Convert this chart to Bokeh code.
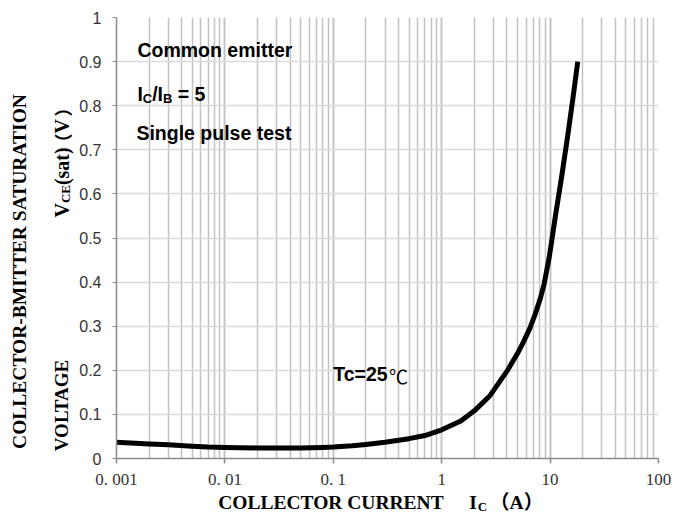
import math
from bokeh.plotting import figure
from bokeh.layouts import row, column
from bokeh.models import Label, LogTicker, CustomJSTickFormatter, SingleIntervalTicker, Range1d
from bokeh.embed import file_html
from bokeh.resources import INLINE

# ---- data ----
ic_amps = [0.001, 0.002, 0.003, 0.005, 0.007, 0.01, 0.02, 0.05, 0.08, 0.1,
           0.15, 0.2, 0.3, 0.5, 0.7, 1.0, 1.5, 2.0, 2.8, 4.0,
           5.0, 5.7, 6.5, 7.3, 8.1, 8.8, 9.8, 11.2, 12.8, 14.5, 16.2, 18.0]
vce_sat = [0.037, 0.033, 0.031, 0.028, 0.026, 0.025, 0.024, 0.024, 0.025, 0.026,
           0.029, 0.032, 0.037, 0.045, 0.052, 0.065, 0.085, 0.108, 0.143, 0.198,
           0.238, 0.265, 0.295, 0.328, 0.362, 0.395, 0.455, 0.550, 0.640, 0.730, 0.815, 0.900]
x_tick_labels = ["0. 001", "0. 01", "0. 1", "1", "10", "100"]
y_ticks_step = 0.1

SANS = "Liberation Sans"
SERIF = "Liberation Serif"
CJK = "Noto Sans CJK SC"
SERIF_CJK = "Liberation Serif, Noto Sans CJK SC"

PAGE_W, PAGE_H = 675, 519
LEFT_W = 76
MAIN_W = PAGE_W - LEFT_W
MAIN_H = 491
BOT_H = PAGE_H - MAIN_H

# plot frame in page pixels
FL, FR, FT, FB = 114, 658, 17, 460
def dx(px):
    return 10 ** (-3 + (px - FL) / ((FR - FL) / 5.0))
def dy(py):
    return (FB - py) / (FB - FT)

p = figure(width=MAIN_W, height=MAIN_H, x_axis_type="log", x_range=(0.001, 100), y_range=(0, 1),
           output_backend="svg", toolbar_location=None,
           min_border_left=FL - LEFT_W, min_border_right=PAGE_W - FR,
           min_border_top=FT, min_border_bottom=MAIN_H - FB)
p.outline_line_color = None

# x axis
p.xaxis.ticker = LogTicker(desired_num_ticks=6, num_minor_ticks=10)
p.xaxis.formatter = CustomJSTickFormatter(args=dict(labels=x_tick_labels), code="""
    const i = Math.round(Math.log10(tick)) + 3;
    return labels[i];
""")
p.xaxis.axis_line_color = "#8c8c8c"
p.xaxis.axis_line_width = 1.5
p.xaxis.major_tick_line_color = "#8c8c8c"
p.xaxis.major_tick_line_width = 1.5
p.xaxis.major_tick_out = 5
p.xaxis.major_tick_in = 0
p.xaxis.minor_tick_line_color = None
p.xaxis.major_label_standoff = 6
p.xaxis.major_label_text_font = SERIF
p.xaxis.major_label_text_font_size = "17px"
p.xaxis.major_label_text_color = "#333333"

# y axis
p.yaxis.ticker = SingleIntervalTicker(interval=y_ticks_step, num_minor_ticks=0)
p.yaxis.axis_line_color = "#8c8c8c"
p.yaxis.axis_line_width = 1.5
p.yaxis.major_tick_line_color = "#8c8c8c"
p.yaxis.major_tick_out = 4
p.yaxis.major_tick_in = 0
p.yaxis.minor_tick_line_color = None
p.yaxis.major_label_standoff = 11
p.yaxis.major_label_text_font = SANS
p.yaxis.major_label_text_font_size = "16px"
p.yaxis.major_label_text_color = "#333333"

# grids
p.xgrid.grid_line_color = "#c2c2c2"
p.xgrid.grid_line_width = 1.5
p.xgrid.minor_grid_line_color = "#c2c2c2"
p.xgrid.minor_grid_line_width = 1.5
p.ygrid.grid_line_color = "#dadada"
p.ygrid.grid_line_width = 1.5

# curve
p.line(ic_amps, vce_sat, line_width=5, line_color="black", line_join="round")


def lab(fig, x, y, text, font=SANS, size=19.5, style="bold", angle=0.0,
        align="left", color="black"):
    fig.add_layout(Label(x=x, y=y, text=text, text_font=font,
                         text_font_size=f"{size}px", text_font_style=style,
                         angle=angle, text_align=align, text_baseline="alphabetic",
                         text_color=color))

def plab(px, py, text, **kw):
    lab(p, dx(px), dy(py), text, **kw)

# inside annotations (y = vertical centre of the capitals, page pixels)
plab(135, 49.5, "Common emitter")
s, sub = 19.5, 13.0
x0 = 135
plab(x0, 93.5, "I", size=s)
x0 += 0.278 * s
plab(x0, 98, "C", size=sub)
x0 += 0.722 * sub
plab(x0, 93.5, "/I", size=s)
x0 += 0.556 * s
plab(x0, 98, "B", size=sub)
x0 += 0.722 * sub
plab(x0, 93.5, "\u00a0=\u00a05", size=s)
plab(134, 132.7, "Single pulse test")
plab(331.5, 375.5, "Tc=25")
plab(387.5, 376.5, "\u2103", font=CJK, size=19, style="normal")


def text_fig(w, h, xr, yr):
    f = figure(width=w, height=h, x_range=xr, y_range=yr,
               output_backend="svg", toolbar_location=None, min_border=0,
               x_axis_location=None, y_axis_location=None)
    f.outline_line_color = None
    f.xgrid.visible = False
    f.ygrid.visible = False
    return f

# left strip: rotated y axis titles (x = page px, y = PAGE_H - page px)
left = text_fig(LEFT_W, PAGE_H, Range1d(0, LEFT_W), Range1d(0, PAGE_H))
R = math.pi / 2
def llab(px, py, text, **kw):
    lab(left, px, PAGE_H - py, text, angle=R, **kw)

llab(19, 271, "COLLECTOR-BMITTER SATURATION", font=SERIF, size=19.5, align="center")
llab(60.5, 405, "VOLTAGE", font=SERIF, size=19, align="center")
llab(61, 217, "V", font=SERIF, size=20)
llab(64.5, 202.6, "CE", font=SERIF, size=13)
llab(61, 184.6, "(sat)", font=SERIF, size=20)
llab(61, 151, "\uff08", font=CJK, size=18)
llab(61, 133, "V", font=SERIF, size=20)
llab(61, 116, "\uff09", font=CJK, size=18)

# bottom strip: x axis title (frame is aligned with the plot frame)
bot = text_fig(MAIN_W, BOT_H, Range1d(FL, FR), Range1d(0, BOT_H))
def blab(px, py, text, **kw):
    lab(bot, px, PAGE_H - py, text, **kw)

blab(216, 501.7, "COLLECTOR CURRENT", font=SERIF, size=19.5)
blab(468, 501.7, "I", font=SERIF, size=19.5)
blab(476.5, 506, "C", font=SERIF, size=13)
blab(489, 501.7, "\uff08A\uff09", font=SERIF_CJK, size=19.5)

layout = row(left, column(p, bot, spacing=0), spacing=0)
open("out.html", "w").write(file_html(layout, INLINE))
